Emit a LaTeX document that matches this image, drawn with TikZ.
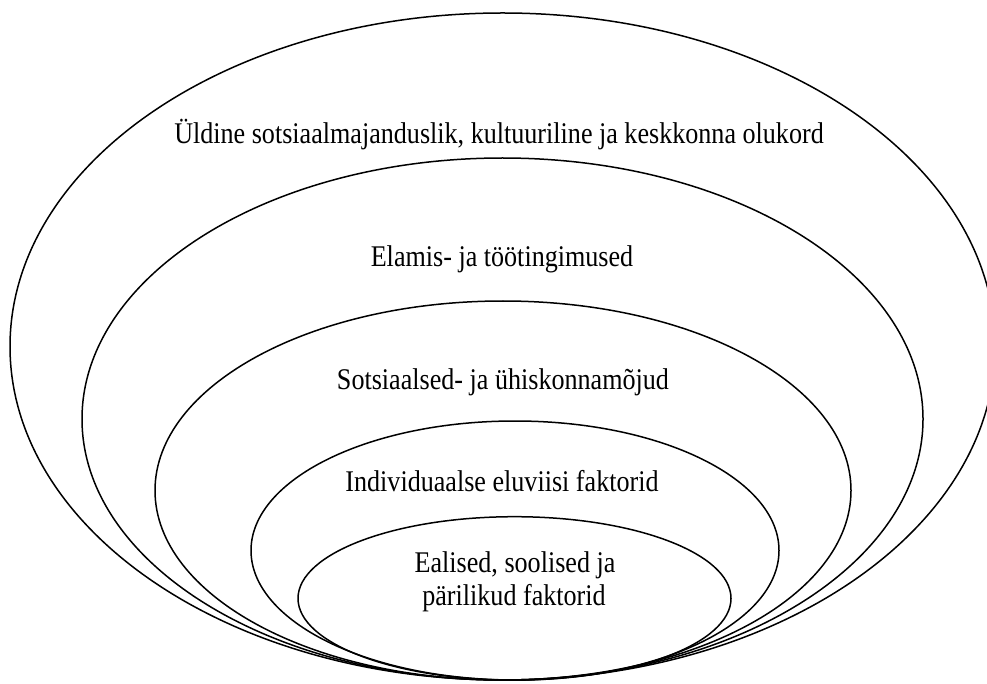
\documentclass[tikz,border=0pt]{standalone}
\usepackage{graphicx}
\usepackage{fontspec}
\setmainfont{Liberation Serif}
% slightly tall lettering
\newcommand{\tallline}[1]{\scalebox{1}[1.15]{#1}}
\begin{document}
\begin{tikzpicture}[x=1pt,y=-1pt,
  ring/.style={draw=black,line width=1.5pt},
  lbl/.style={font=\fontsize{26.1}{33}\selectfont,inner sep=0pt,align=center}]
\useasboundingbox (0,0) rectangle (987,684);
\clip (0,0) rectangle (987,684);
% nested ellipses, all resting on the same bottom line
\draw[ring] (502.6,346.5) ellipse [x radius=492.6, y radius=333.5];
\draw[ring] (502.5,419)   ellipse [x radius=420.5, y radius=261];
\draw[ring] (503,490.5)   ellipse [x radius=348,   y radius=189.5];
\draw[ring] (515,550.5)   ellipse [x radius=264,   y radius=129.5];
\draw[ring] (514.5,598.4) ellipse [x radius=216.5, y radius=81.7];
% labels
\node[lbl,anchor=base] (t1) at (499,144) {\tallline{Üldine sotsiaalmajanduslik, kultuuriline ja keskkonna olukord}};
\node[lbl,anchor=base] (t2) at (502,267) {\tallline{Elamis- ja töötingimused}};
\node[lbl,anchor=base] (t3) at (503,389.6) {\tallline{Sotsiaalsed- ja ühiskonnamõjud}};
\node[lbl,anchor=base] (t4) at (502,491.7) {\tallline{Individuaalse eluviisi faktorid}};
\node[lbl,anchor=base] (t5a) at (515,572.5) {\tallline{Ealised, soolised ja}};
\node[lbl,anchor=base] (t5b) at (514,605.5) {\tallline{pärilikud faktorid}};
\end{tikzpicture}
\end{document}
